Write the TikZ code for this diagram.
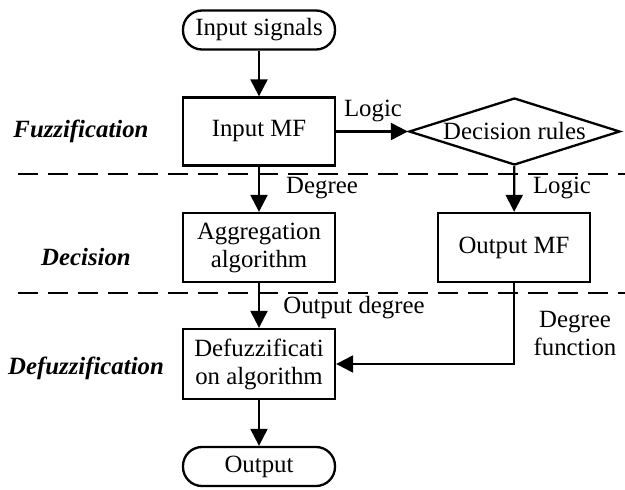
\documentclass[tikz,border=0pt]{standalone}
\usepackage{fontspec}
\setmainfont{Liberation Serif}
\usetikzlibrary{arrows.meta,shapes.geometric}
\begin{document}
\begin{tikzpicture}[x=1pt,y=-1pt,
  every node/.style={font=\fontsize{24.8}{28}\selectfont},
  box/.style={draw,line width=2.3pt,rectangle,minimum width=152pt,inner sep=0pt,align=center},
  term/.style={draw,line width=2.3pt,rectangle,rounded corners=19pt,minimum width=152pt,minimum height=39pt,inner sep=0pt},
  dec/.style={draw,line width=2.3pt,diamond,minimum width=211pt,minimum height=67pt,inner sep=0pt},
  lbl/.style={inner sep=0pt,align=center},
  phase/.style={inner sep=0pt,font=\fontsize{24.8}{28}\selectfont\bfseries\itshape},
  arr/.style={line width=2.2pt,-{Triangle[length=17pt,width=17pt]}},
  sep/.style={line width=2.2pt,dash pattern=on 20pt off 10pt}]
\useasboundingbox (0,0) rectangle (625,490);
% nodes
\node[term] (sig) at (259,30) {Input signals};
\node[box,minimum height=68pt] (imf) at (259,131.5) {Input MF};
\node[dec] (dr) at (514.5,131.5) {\makebox[0pt]{Decision rules}};
\node[box,minimum height=69pt] (agg) at (259,247.5) {Aggregation\\algorithm};
\node[box,minimum height=69pt] (omf) at (514,247.5) {Output MF};
\node[box,minimum height=70pt] (dfz) at (259,364) {Defuzzificati\\on algorithm};
\node[term] (out) at (259,466.5) {Output};
% separators
\coordinate (s1a) at (18,174);
\coordinate (s1b) at (625,174);
\coordinate (s2a) at (18,293);
\coordinate (s2b) at (625,293);
\draw[sep] (s1a) -- (s1b);
\draw[sep] (s2a) -- (s2b);
% connectors
\draw[arr] (sig) -- (imf);
\draw[arr] (imf) -- (dr);
\draw[arr] (imf) -- (agg);
\draw[arr] (dr) -- (omf);
\draw[arr] (agg) -- (dfz);
\draw[arr] (omf.south) |- (dfz.east);
\draw[arr] (dfz) -- (out);
% labels
\node[lbl] (l1) at (373,111) {Logic};
\node[lbl] (l2) at (322,188) {Degree};
\node[lbl] (l3) at (562,188) {Logic};
\node[lbl] (l4) at (354,308) {Output degree};
\node[lbl] (l5) at (575,333) {Degree\\function};
\node[phase] (p1) at (81,131) {Fuzzification};
\node[phase] (p2) at (86,257) {Decision};
\node[phase] (p3) at (86,368) {Defuzzification};
\end{tikzpicture}
\end{document}
